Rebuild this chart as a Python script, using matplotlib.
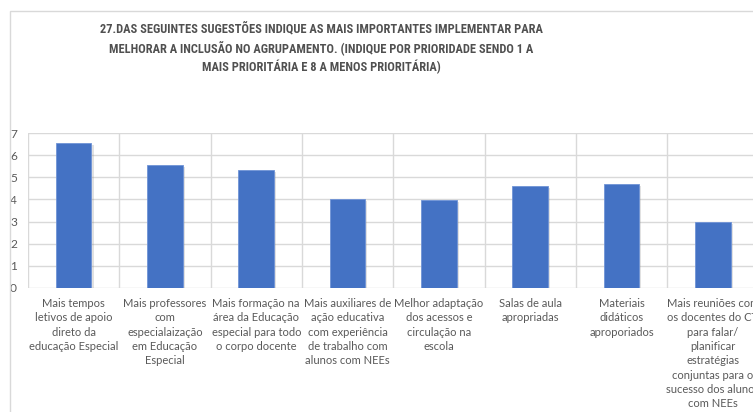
import matplotlib
matplotlib.use("Agg")
import matplotlib.pyplot as plt
from matplotlib import patheffects as pe
from matplotlib.patches import Rectangle
from matplotlib import font_manager as fm

categories = [
    "Mais tempos\nletivos de apoio\ndireto da\neducação Especial",
    "Mais professores\ncom\nespecialaização\nem Educação\nEspecial",
    "Mais formação na\nárea da Educação\nespecial para todo\no corpo docente",
    "Mais auxiliares de\nação educativa\ncom experiência\nde trabalho com\nalunos com NEEs",
    "Melhor adaptação\ndos acessos e\ncirculação na\nescola",
    "Salas de aula\napropriadas",
    "Materiais\ndidáticos\naproporiados",
    "Mais reuniões com\nos docentes do CT\npara falar/\nplanificar\nestratégias\nconjuntas para o\nsucesso dos alunos\ncom NEEs",
]
values = [6.57, 5.55, 5.32, 4.01, 3.98, 4.60, 4.69, 2.99]
yticks = [0, 1, 2, 3, 4, 5, 6, 7]
title = ("27.DAS SEGUINTES SUGESTÕES INDIQUE AS MAIS IMPORTANTES IMPLEMENTAR PARA\n"
         "MELHORAR A INCLUSÃO NO AGRUPAMENTO. (INDIQUE POR PRIORIDADE SENDO 1 A\n"
         "MAIS PRIORITÁRIA E 8 A MENOS PRIORITÁRIA)")

# pick a narrow bold font if one is installed
entries = fm.fontManager.ttflist
def has(name, stretch=None):
    for f in entries:
        if f.name == name and (stretch is None or f.stretch in stretch):
            return True
    return False

title_family, title_stretch = 'Lato', 'normal'
for nm in ['Liberation Sans Narrow', 'Roboto Condensed', 'Open Sans Condensed',
           'Noto Sans Condensed', 'Arial Narrow']:
    if has(nm):
        title_family = nm
        break
else:
    for nm in ['Noto Sans', 'Open Sans', 'Roboto', 'DejaVu Sans']:
        if has(nm, ('condensed', 'semi-condensed', 75, 87)):
            title_family, title_stretch = nm, 'condensed'
            break

plt.rcParams['font.family'] = ['Lato', 'DejaVu Sans']
W, H = 753, 412
fig = plt.figure(figsize=(W / 100, H / 100), dpi=100)
fig.patch.set_facecolor('white')

# chart border (extends past the right/bottom edge of the image)
fig.add_artist(Rectangle((9.5 / W, -0.1), 2, 1 - 11.3 / H + 0.1,
                         transform=fig.transFigure, fill=False,
                         edgecolor='#d9d9d9', linewidth=1.0))

left = 28 / W
width = 730.4 / W
bottom = (H - 287.7) / H
height = (287.7 - 133.3) / H
ax = fig.add_axes([left, bottom, width, height])

x = list(range(len(categories)))
bars = ax.bar(x, values, width=0.39, color='#4472C4', edgecolor='#6f93d6',
              linewidth=0.6, zorder=3)
for b in bars:
    b.set_path_effects([pe.SimplePatchShadow(offset=(1.5, -1.5), shadow_rgbFace='#888888', alpha=0.25),
                        pe.Normal()])

ax.set_xlim(-0.5, len(categories) - 0.5)
ax.set_ylim(0, 7)
ax.set_yticks(yticks)
ax.set_yticklabels([str(t) for t in yticks])
ax.set_xticks(x)
ax.set_xticklabels(categories, fontsize=8.0, color='#595959', linespacing=1.37, va='top')
ax.set_xticks([i - 0.5 for i in range(len(categories) + 1)], minor=True)
ax.tick_params(axis='x', which='both', length=0, pad=7.5)
ax.tick_params(axis='y', length=0, pad=8, labelsize=8.6, labelcolor='#595959')
for s in ax.spines.values():
    s.set_visible(False)
ax.grid(axis='y', which='major', color='#d9d9d9', linewidth=1.0, zorder=0)
ax.grid(axis='x', which='minor', color='#d9d9d9', linewidth=1.0, zorder=0)
ax.set_axisbelow(True)

# size the title so its first line spans ~440 px like the reference
renderer = fig.canvas.get_renderer()
probe = fig.text(0, 0, title.split("\n")[0], fontsize=11, fontweight='bold',
                 family=[title_family, 'DejaVu Sans'], fontstretch=title_stretch)
w = probe.get_window_extent(renderer).width
probe.remove()
fs = 11 * 440 / w
fs = min(fs, 11.5)
lsp = 20.0 / (fs * 100 / 72 * 1.17)

fig.text(321 / W, 1 - 22 / H, title, ha='center', va='top', fontsize=fs,
         fontweight='bold', color='#505050', linespacing=lsp,
         family=[title_family, 'DejaVu Sans'], fontstretch=title_stretch)

fig.savefig('out.png', dpi=100, facecolor='white')
